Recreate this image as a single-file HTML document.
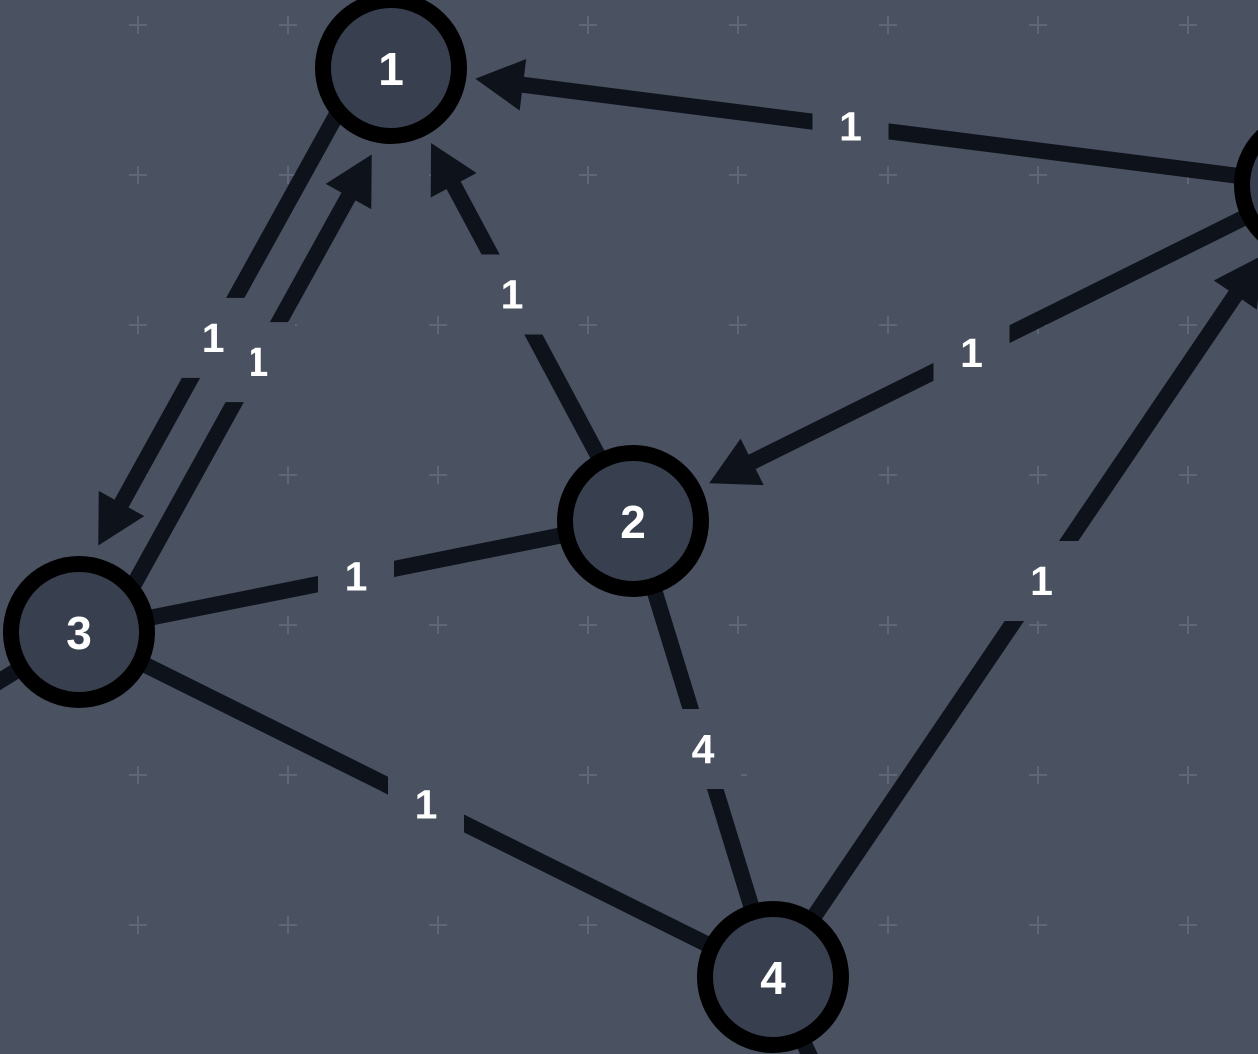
<!DOCTYPE html>
<html><head><meta charset="utf-8"><style>
html,body{margin:0;padding:0;background:#4a5161;overflow:hidden;width:1258px;height:1054px;}
svg{display:block;}
text{font-family:"Liberation Sans",sans-serif;font-weight:bold;fill:#fff;}
</style></head><body>
<svg id="g" width="1258" height="1054" viewBox="0 0 1258 1054" xmlns="http://www.w3.org/2000/svg">
<rect width="1258" height="1054" fill="#4a5161"/>
<g id="grid"></g>
<g id="edges"></g>
<g id="labels"></g>
<g id="nodes"></g>
</svg>
<script>
const nodeIds=["1","2","3","4","5","L","B"];
const nodeX=[391,633,79,773,1310,-60,835];
const nodeY=[68,521,632,977,185,718,1110];
const nodeVisible=[1,1,1,1,1,0,0];
const edgeFrom=["5","3","1","2","5","3","2","4","3","3","4"];
const edgeTo=  ["1","1","3","1","2","2","4","5","4","L","B"];
const edgeWeight=["1","1","1","1","1","1","4","1","1","",""];
const edgeDirected=[1,1,1,1,1,0,0,1,0,0,0];
const edgeOffset=[0,-25,25,0,0,0,0,0,0,0,0];

const NS="http://www.w3.org/2000/svg";
function mk(t,a,p){const e=document.createElementNS(NS,t);for(const k in a)e.setAttribute(k,a[k]);p.appendChild(e);return e;}
const grid=document.getElementById('grid');
for(let x=138;x<1258;x+=150)for(let y=25;y<1054;y+=150){
  const p=mk('path',{d:`M${x-9} ${y}H${x+9}M${x} ${y-9}V${y+9}`,stroke:'#5f6676','stroke-width':2},grid);
  
  
}
function pos(id){const i=nodeIds.indexOf(id);return [nodeX[i],nodeY[i]];}
const eg=document.getElementById('edges'),lg=document.getElementById('labels');
const TIP=85,AL=48,AW=26,EC='#0e121b';
for(let i=0;i<edgeFrom.length;i++){
  let [x1,y1]=pos(edgeFrom[i]),[x2,y2]=pos(edgeTo[i]);
  const dx=x2-x1,dy=y2-y1,L=Math.hypot(dx,dy),ux=dx/L,uy=dy/L;
  const s=edgeFrom[i]<edgeTo[i]?1:-1;
  const px=-uy*s,py=ux*s;
  let o=edgeOffset[i];
  x1+=px*o;y1+=py*o;x2+=px*o;y2+=py*o;
  let ex=x2,ey=y2;
  if(edgeDirected[i]){
    const tx=x2-ux*TIP,ty=y2-uy*TIP;
    ex=tx-ux*AL*0.9;ey=ty-uy*AL*0.9;
    const a=mk('polygon',{points:`${tx},${ty} ${tx-ux*AL-uy*AW},${ty-uy*AL+ux*AW} ${tx-ux*AL+uy*AW},${ty-uy*AL-ux*AW}`,fill:EC},eg);
    
    
  }
  const l=mk('line',{x1:x1,y1:y1,x2:ex,y2:ey,stroke:EC,'stroke-width':16},eg);
  
  
  if(edgeWeight[i]){
    const mx=(x1+x2)/2,my=(y1+y2)/2;
    const r=mk('rect',{x:mx-38,y:my-40,width:76,height:80,fill:'#4a5161'},lg);
    
    
    const t=mk('text',{x:mx,y:my+14,'text-anchor':'middle','font-size':41},lg);
    t.textContent=edgeWeight[i];
    
    
  }
}
const ng=document.getElementById('nodes');
for(let i=0;i<nodeIds.length;i++){
  if(!nodeVisible[i])continue;
  const g=mk('g',{},ng);
  
  
  mk('circle',{cx:nodeX[i],cy:nodeY[i],r:68,fill:'#384050',stroke:'#000','stroke-width':16},g);
  const t=mk('text',{x:nodeX[i],y:nodeY[i]+17,'text-anchor':'middle','font-size':46},g);
  t.textContent=nodeIds[i];
  
  
}
</script>
</body></html>
